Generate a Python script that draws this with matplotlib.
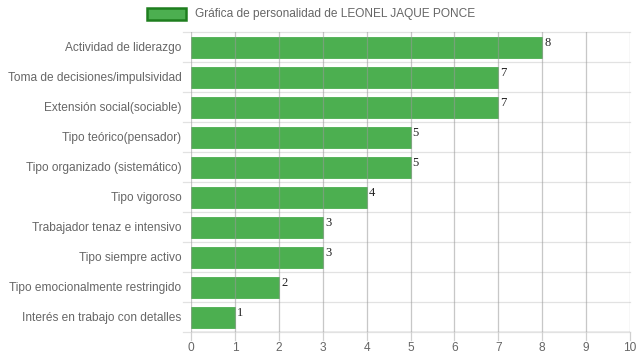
import matplotlib
matplotlib.use("Agg")
import matplotlib.pyplot as plt
from matplotlib.patches import Rectangle

categories = [
    "Actividad de liderazgo",
    "Toma de decisiones/impulsividad",
    "Extensión social(sociable)",
    "Tipo teórico(pensador)",
    "Tipo organizado (sistemático)",
    "Tipo vigoroso",
    "Trabajador tenaz e intensivo",
    "Tipo siempre activo",
    "Tipo emocionalmente restringido",
    "Interés en trabajo con detalles",
]
values = [8, 7, 7, 5, 5, 4, 3, 3, 2, 1]
x_ticks = list(range(0, 11))
legend_label = "Gráfica de personalidad de LEONEL JAQUE PONCE"

bar_color = "#4CAF50"
edge_dark = "#1E7E1E"
text_grey = "#666666"

fig = plt.figure(figsize=(6.39, 3.6), dpi=100)
W, H = 639, 360
ax = fig.add_axes([191 / W, 1 - 332 / H, (630 - 191) / W, 300 / H])

n = len(categories)
ypos = list(range(n))
ax.barh(ypos, values, height=0.7, color=bar_color, edgecolor=bar_color,
        linewidth=0.6, zorder=2)

for y, v in zip(ypos, values):
    ax.text(v + 0.05, y - 0.33, str(v), ha="left", va="top",
            fontsize=9, family="Liberation Serif", color="#222222", zorder=4)

ax.set_xlim(0, 10)
ax.set_ylim(n - 0.5, -0.5)
ax.set_xticks(x_ticks)
ax.set_xticklabels([str(t) for t in x_ticks], fontsize=8.6,
                   family="Liberation Sans", color=text_grey)
ax.set_yticks(ypos)
ax.set_yticklabels(categories, fontsize=8.6, family="Liberation Sans",
                   color=text_grey)

# vertical grid over the bars, horizontal separators between categories
for t in x_ticks:
    ax.axvline(t, color="#9a9a9a", linewidth=0.9, alpha=0.55, zorder=3)
for b in [i - 0.5 for i in range(n + 1)]:
    ax.plot([-0.18, 10], [b, b], color="#e2e2e2", linewidth=0.9,
            zorder=1, clip_on=False)
for t in x_ticks:
    ax.plot([t, t], [n - 0.5, n - 0.5 + 0.27], color="#d0d0d0",
            linewidth=0.9, clip_on=False, zorder=1)

ax.axhline(n - 0.5, color="#aaaaaa", linewidth=1.0, zorder=3)
for s in ax.spines.values():
    s.set_visible(False)
ax.tick_params(axis="x", length=0, pad=7)
ax.tick_params(axis="y", length=0, pad=7)

# legend swatch and label
fig.patches.append(Rectangle((147 / W, 1 - 20 / H), 39 / W, 12 / H,
                             transform=fig.transFigure, facecolor=bar_color,
                             edgecolor=edge_dark, linewidth=1.8))
fig.text(195 / W, 1 - 14 / H, legend_label, ha="left", va="center",
         fontsize=8.6, family="Liberation Sans", color=text_grey)

fig.savefig("out.png", dpi=100, facecolor="white")
